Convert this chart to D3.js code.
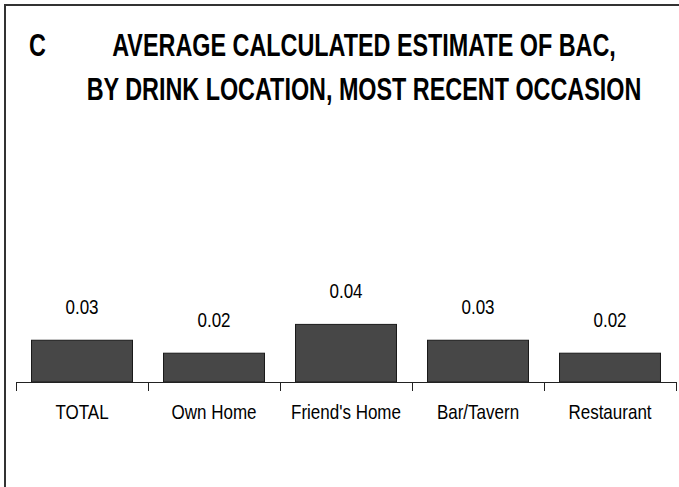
<!DOCTYPE html>
<html>
<head>
<meta charset="utf-8">
<script src="https://cdn.jsdelivr.net/npm/d3@7"></script>
<style>
  html, body { margin: 0; padding: 0; background: #fff; }
  svg { display: block; }
  text { font-family: "Liberation Sans", Arial, sans-serif; fill: #000; }
</style>
</head>
<body>
<script>
const categories = ["TOTAL", "Own Home", "Friend's Home", "Bar/Tavern", "Restaurant"];
const bacValues = [0.029, 0.020, 0.040, 0.029, 0.020];
const valueLabels = ["0.03", "0.02", "0.04", "0.03", "0.02"];
const titleLetter = "C";
const titleLines = ["AVERAGE CALCULATED ESTIMATE OF BAC,", "BY DRINK LOCATION, MOST RECENT OCCASION"];

const W = 679, H = 487;
const svg = d3.select("body").append("svg").attr("width", W).attr("height", H);

// narrow-style text: regular font squeezed horizontally
function narrowText(parent, x, y, str, size, weight, anchor, sx) {
  const g = parent.append("g").attr("transform", `translate(${x},${y}) scale(${sx},1)`);
  g.append("text")
    .attr("x", 0).attr("y", 0)
    .attr("text-anchor", anchor)
    .attr("font-size", size)
    .attr("font-weight", weight)
    .text(str);
  return g;
}

// frame
svg.append("rect")
  .attr("x", 5).attr("y", 5).attr("width", W + 20).attr("height", H + 20)
  .attr("fill", "none").attr("stroke", "#333").attr("stroke-width", 2);

// title
narrowText(svg, 29, 56, titleLetter, 31, "bold", "start", 0.754);
titleLines.forEach((t, i) => narrowText(svg, 364, 56 + i * 44, t, 31, "bold", "middle", 0.754));

const baseY = 382;
const x = d3.scaleBand().domain(categories).range([16, 676])
  .paddingInner(0.235).paddingOuter(0.1175);
const y = d3.scaleLinear().domain([0, 0.1]).range([baseY, baseY - 144]);

// bars
svg.selectAll("rect.bar").data(bacValues).enter().append("rect")
  .attr("class", "bar")
  .attr("x", (d, i) => x(categories[i]))
  .attr("width", x.bandwidth())
  .attr("y", d => y(d))
  .attr("height", d => baseY - y(d))
  .attr("fill", "#474747")
  .attr("stroke", "#1a1a1a").attr("stroke-width", 1);

// value labels
bacValues.forEach((d, i) =>
  narrowText(svg, x(categories[i]) + x.bandwidth() / 2, y(d) - 26, valueLabels[i], 21, "normal", "middle", 0.81));

// axis baseline and ticks between categories
const axis = svg.append("g");
axis.append("line")
  .attr("x1", 16).attr("x2", 676).attr("y1", baseY + 0.5).attr("y2", baseY + 0.5)
  .attr("stroke", "#222").attr("stroke-width", 1);
const tickXs = categories.map(c => x(c) - x.step() * x.paddingInner() / 2).concat([676]);
axis.selectAll("line.tick").data(tickXs).enter().append("line")
  .attr("class", "tick")
  .attr("x1", d => Math.round(d) + 0.5).attr("x2", d => Math.round(d) + 0.5)
  .attr("y1", baseY).attr("y2", baseY + 9)
  .attr("stroke", "#222").attr("stroke-width", 1);

// category labels
categories.forEach(c =>
  narrowText(svg, x(c) + x.bandwidth() / 2, 419, c, 21, "normal", "middle", 0.81));
</script>
</body>
</html>
